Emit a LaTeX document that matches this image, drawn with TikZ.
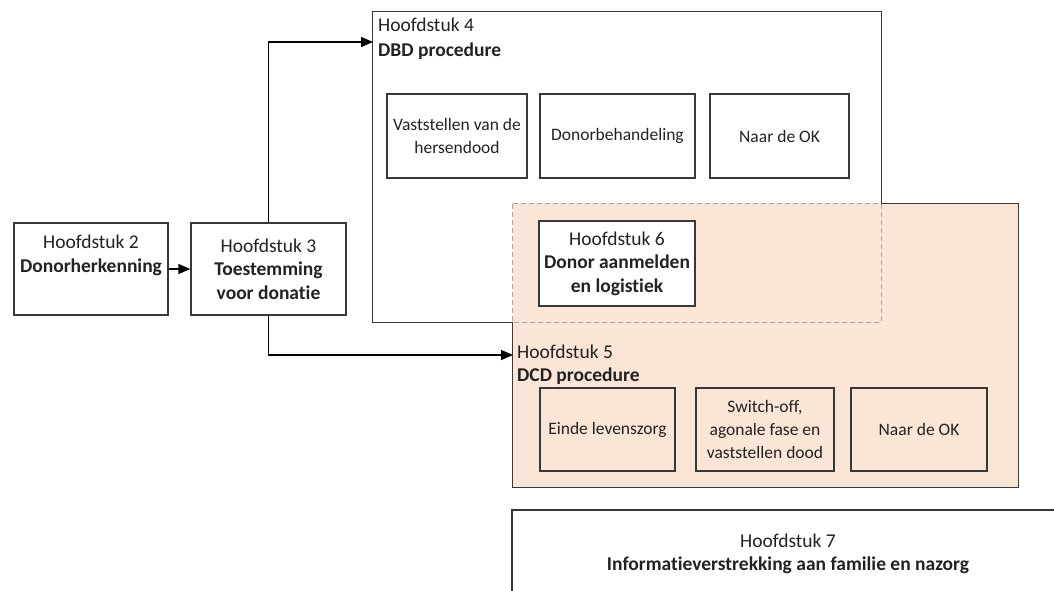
\documentclass[tikz,border=0pt]{standalone}
\usepackage{fontspec}
\setmainfont{Carlito}[RawFeature=-liga]
\usetikzlibrary{arrows.meta}
\definecolor{peach}{HTML}{FBE5D6}
\definecolor{edge}{HTML}{383838}
\definecolor{ink}{HTML}{222222}
\definecolor{dashgray}{HTML}{A5A5A5}

\begin{document}
\begin{tikzpicture}[x=1pt,y=-1pt,
  font=\fontsize{19.5}{23.5}\selectfont, text=ink,
  box/.style={draw=edge, line width=1.3pt, align=center, inner sep=0pt},
  stepbox/.style={box, font=\fontsize{17.5}{23}\selectfont},
  area/.style={inner sep=0pt},
  frame/.style={draw=edge, line width=1.3pt},
  overlap/.style={draw=dashgray, line width=1pt, dash pattern=on 5pt off 3pt},
  link/.style={draw=black, line width=1.4pt, -{Triangle[length=12pt,width=10pt]}},
  title/.style={anchor=base west, inner sep=0pt}
]
\useasboundingbox (0,0) rectangle (1054,590);
\clip (0,0) rectangle (1054,590);

% chapter containers
\node[area, fill=white, minimum width=508pt, minimum height=310pt] (dbd) at (627,167) {};
\node[area, fill=peach, minimum width=505pt, minimum height=283pt] (dcd) at (765.5,345.5) {};

% borders: solid outside the shared part, dashed around the shared part
\draw[frame] (dcd.west |- dbd.south) -- (dbd.south west) -- (dbd.north west)
  -- (dbd.north east) -- (dbd.east |- dcd.north);
\draw[frame] (dbd.east |- dcd.north) -- (dcd.north east) -- (dcd.south east)
  -- (dcd.south west) -- (dcd.west |- dbd.south);
\draw[overlap] (dcd.north west) rectangle (dbd.south east);

% container titles
\node[title] (t4a) at (378,31) {Hoofdstuk 4};
\node[title] (t4b) at (378,56) {\textbf{DBD procedure}};
\node[title] (t5a) at (517,358) {Hoofdstuk 5};
\node[title] (t5b) at (517,381) {\textbf{DCD procedure}};

% left-hand chapters
\node[box, fill=white, minimum width=154pt, minimum height=92pt] (h2) at (91,269)
  {Hoofdstuk 2\\\textbf{Donorherkenning}\\\strut};
\node[box, fill=white, minimum width=155pt, minimum height=92pt] (h3) at (268.5,269)
  {Hoofdstuk 3\\\textbf{Toestemming}\\\textbf{voor donatie}};

% DBD steps
\node[stepbox, fill=white, minimum width=140pt, minimum height=84pt] (d1) at (457,136)
  {Vaststellen van de\\hersendood};
\node[stepbox, fill=white, minimum width=155pt, minimum height=84pt] (d2) at (617.5,136)
  {Donorbehandeling};
\node[stepbox, fill=white, minimum width=139pt, minimum height=84pt] (d3) at (779.5,136)
  {Naar de OK};

% chapter 6 in the shared part
\node[box, fill=white, minimum width=156pt, minimum height=85pt] (h6) at (617,263.5)
  {Hoofdstuk 6\\\textbf{Donor aanmelden}\\\textbf{en logistiek}};

% DCD steps
\node[stepbox, fill=peach, minimum width=135pt, minimum height=83pt] (c1) at (607.5,429.5)
  {Einde levenszorg};
\node[stepbox, fill=peach, minimum width=138pt, minimum height=83pt] (c2) at (765,429.5)
  {Switch-off,\\agonale fase en\\vaststellen dood};
\node[stepbox, fill=peach, minimum width=136pt, minimum height=83pt] (c3) at (919,429.5)
  {Naar de OK};

% chapter 7
\node[box, fill=white, minimum width=552pt, minimum height=100pt] (h7) at (788,560) {};
\node[align=center, inner sep=0pt] (t7) at (788,554)
  {Hoofdstuk 7\\\textbf{Informatieverstrekking aan familie en nazorg}};

% connectors
\coordinate (in4) at (373,42);
\coordinate (in5) at (513,355);
\draw[link] (h2.east) -- (h3.west);
\draw[link] (h3.north) |- (in4);
\draw[link] (h3.south) |- (in5);
\end{tikzpicture}
\end{document}
